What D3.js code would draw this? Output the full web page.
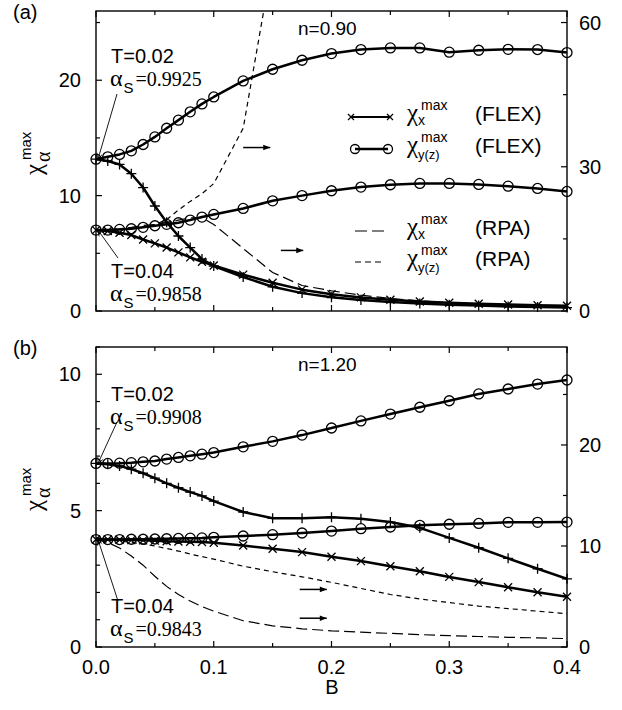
<!DOCTYPE html>
<html>
<head>
<meta charset="utf-8">
<script src="https://cdn.jsdelivr.net/npm/d3@7"></script>
<style>
  body { margin: 0; background: #fff; }
  svg { display: block; }
  text { font-family: "Liberation Sans", Arial, sans-serif; fill: #000; }
  .serif { font-family: "Liberation Serif", "DejaVu Serif", serif; }
</style>
</head>
<body>
<svg id="chart" width="622" height="710"></svg>
<script>
// DATA
const B = [0, 0.01, 0.02, 0.03, 0.04, 0.05, 0.06, 0.07, 0.08, 0.09, 0.1,
           0.125, 0.15, 0.175, 0.2, 0.225, 0.25, 0.275, 0.3, 0.325, 0.35, 0.375, 0.4];
const xTickLabels = ["0.0", "0.1", "0.2", "0.3", "0.4"];

// (a) n=0.90, left axis
const yzA02 = [13.16, 13.36, 13.57, 13.88, 14.43, 15.09, 15.84, 16.54, 17.26, 17.95, 18.55,
               19.94, 20.95, 21.73, 22.31, 22.66, 22.8, 22.8, 22.43, 22.6, 22.68, 22.66, 22.4];
const yzA04 = [7.01, 7.01, 7.07, 7.13, 7.25, 7.39, 7.51, 7.65, 7.88, 8.14, 8.37,
               8.89, 9.55, 10.0, 10.42, 10.74, 10.94, 11.06, 11.06, 10.97, 10.82, 10.62, 10.36];
const xA02 = [13.16, 13.0, 12.7, 11.9, 10.7, 9.1, 7.7, 6.5, 5.5, 4.5, 3.9,
              2.95, 2.1, 1.55, 1.2, 0.95, 0.78, 0.65, 0.55, 0.47, 0.4, 0.35, 0.3];
const xA04 = [7.01, 6.93, 6.78, 6.58, 6.2, 5.86, 5.5, 5.08, 4.65, 4.27, 3.95,
              3.15, 2.45, 1.85, 1.45, 1.18, 0.98, 0.83, 0.72, 0.63, 0.56, 0.5, 0.45];
// (a) RPA, right axis
const rpaXA = [16.8, 16.9, 17.1, 17.4, 17.8, 18.0, 18.4, 18.9, 19.4, 19.4, 18.0,
               13.0, 8.0, 5.3, 4.2, 3.3, 2.6, 2.1, 1.7, 1.4, 1.2, 1.0, 0.9];
const rpaYZA = [16.8, 16.85, 16.95, 17.1, 17.4, 18.0, 19.0, 21.0, 22.8, 24.4, 26.5, 38, 73];

// (b) n=1.20, left axis
const yzB02 = [6.73, 6.73, 6.74, 6.76, 6.79, 6.82, 6.89, 6.95, 7.01, 7.07, 7.13,
               7.34, 7.54, 7.77, 8.03, 8.29, 8.54, 8.79, 9.03, 9.28, 9.46, 9.64, 9.79];
const yzB04 = [3.94, 3.94, 3.94, 3.95, 3.95, 3.96, 3.97, 3.98, 3.99, 4.0, 4.02,
               4.07, 4.12, 4.18, 4.25, 4.34, 4.4, 4.46, 4.5, 4.53, 4.57, 4.57, 4.58];
const xB02 = [6.73, 6.7, 6.64, 6.52, 6.37, 6.19, 6.0, 5.84, 5.68, 5.54, 5.35,
              4.95, 4.72, 4.72, 4.76, 4.7, 4.58, 4.37, 4.0, 3.64, 3.25, 2.87, 2.5];
const xB04 = [3.94, 3.94, 3.93, 3.92, 3.91, 3.9, 3.88, 3.87, 3.86, 3.85, 3.82,
              3.72, 3.6, 3.48, 3.31, 3.15, 2.96, 2.78, 2.57, 2.38, 2.19, 2.01, 1.84];
// (b) RPA, right axis
const rpaYZB = [10.65, 10.6, 10.5, 10.35, 10.2, 10.0, 9.75, 9.5, 9.2, 8.95, 8.7,
                8.0, 7.45, 6.95, 6.4, 5.8, 5.2, 4.75, 4.4, 4.05, 3.8, 3.55, 3.3];
const rpaXB = [10.65, 10.35, 9.8, 9.0, 8.1, 7.0, 6.0, 5.2, 4.55, 4.0, 3.55,
               2.6, 2.1, 1.8, 1.6, 1.47, 1.35, 1.23, 1.12, 1.04, 0.96, 0.9, 0.83];

// LAYOUT
const svg = d3.select("#chart");
const left = 96, right = 567;
const x = d3.scaleLinear().domain([0, 0.4]).range([left, right]);
const SERIF = '"Liberation Serif", "DejaVu Serif", serif';
const SANS = '"Liberation Sans", Arial, sans-serif';

const defs = svg.append("defs");
defs.append("marker").attr("id", "thinhead")
    .attr("viewBox", "0 0 10 10").attr("refX", 10).attr("refY", 5)
    .attr("markerWidth", 8).attr("markerHeight", 6).attr("markerUnits", "userSpaceOnUse")
    .attr("orient", "auto")
  .append("path").attr("d", "M0,0 L10,5 L0,10").attr("fill", "none").attr("stroke", "#000").attr("stroke-width", 1.2);
defs.append("marker").attr("id", "head")
    .attr("viewBox", "0 0 10 10").attr("refX", 10).attr("refY", 5)
    .attr("markerWidth", 9).attr("markerHeight", 7).attr("markerUnits", "userSpaceOnUse")
    .attr("orient", "auto")
  .append("path").attr("d", "M0,1 L10,5 L0,9 Z").attr("fill", "#000");

function pairs(vals) {
  return vals.map((v, i) => [B[i], v]);
}

// chi with superscript "max" and a subscript
function chiLabel(g, px, py, sub) {
  const long = sub.length > 1;
  g.append("text").attr("class", "serif").attr("x", px).attr("y", py)
    .attr("font-size", 25).text("χ");
  g.append("text").attr("x", px + 14).attr("y", py - 11).attr("font-size", 14).text("max");
  g.append("text").attr("x", px + 11).attr("y", py + (long ? 6 : 4))
    .attr("font-size", long ? 13 : 14).text(sub);
}

function drawPanel(p) {
  const g = svg.append("g");
  const yL = d3.scaleLinear().domain([0, p.leftMax]).range([p.bottom, p.top]);
  const yR = d3.scaleLinear().domain([0, p.rightMax]).range([p.bottom, p.top]);

  const clipId = "clip" + p.name;
  defs.append("clipPath").attr("id", clipId)
    .append("rect").attr("x", left).attr("y", p.top).attr("width", right - left).attr("height", p.bottom - p.top);

  // ticks (inward)
  const ticks = g.append("g").attr("stroke", "#000").attr("stroke-width", 1.2);
  d3.range(0, 9).forEach(i => {
    const v = i * 0.05, len = i % 2 === 0 ? 6 : 4;
    ticks.append("line").attr("x1", x(v)).attr("x2", x(v)).attr("y1", p.bottom).attr("y2", p.bottom - len);
    ticks.append("line").attr("x1", x(v)).attr("x2", x(v)).attr("y1", p.top).attr("y2", p.top + len);
  });
  p.leftTicks.forEach(v => {
    const len = p.leftMajor.includes(v) ? 6 : 4;
    ticks.append("line").attr("x1", left).attr("x2", left + len).attr("y1", yL(v)).attr("y2", yL(v));
  });
  p.rightTicks.forEach(v => {
    const len = p.rightMajor.includes(v) ? 6 : 4;
    ticks.append("line").attr("x1", right).attr("x2", right - len).attr("y1", yR(v)).attr("y2", yR(v));
  });

  // tick labels
  g.append("g").attr("text-anchor", "end").attr("font-size", 20)
    .selectAll().data(p.leftMajor).join("text")
      .attr("x", 81).attr("y", d => yL(d)).attr("dy", "0.35em").text(d => d);
  g.append("g").attr("text-anchor", "start").attr("font-size", 20)
    .selectAll().data(p.rightMajor).join("text")
      .attr("x", 579).attr("y", d => yR(d)).attr("dy", "0.35em").text(d => d);

  // curves
  const plot = g.append("g").attr("clip-path", `url(#${clipId})`);
  const lineL = d3.line().x(d => x(d[0])).y(d => yL(d[1]));
  const lineR = d3.line().x(d => x(d[0])).y(d => yR(d[1]));

  plot.append("path").datum(pairs(p.rpaX)).attr("d", lineR)
    .attr("fill", "none").attr("stroke", "#000").attr("stroke-width", 1.2).attr("stroke-dasharray", "11,5");
  plot.append("path").datum(pairs(p.rpaYZ)).attr("d", lineR)
    .attr("fill", "none").attr("stroke", "#000").attr("stroke-width", 1.2).attr("stroke-dasharray", "5,4");

  [p.x02, p.x04, p.yz02, p.yz04].forEach(vals => {
    plot.append("path").datum(pairs(vals)).attr("d", lineL)
      .attr("fill", "none").attr("stroke", "#000").attr("stroke-width", 2.5).attr("stroke-linejoin", "round");
  });

  const mk = g.append("g").attr("stroke", "#000").attr("fill", "none").attr("stroke-width", 1.3);
  [p.yz02, p.yz04].forEach(vals => {
    mk.append("g").selectAll().data(pairs(vals)).join("circle")
      .attr("cx", d => x(d[0])).attr("cy", d => yL(d[1])).attr("r", 5);
  });
  mk.append("g").selectAll().data(pairs(p.x04)).join("path")
    .attr("d", d => { const cx = x(d[0]), cy = yL(d[1]);
      return `M${cx - 4},${cy - 4}L${cx + 4},${cy + 4}M${cx - 4},${cy + 4}L${cx + 4},${cy - 4}`; });
  mk.append("g").selectAll().data(pairs(p.x02)).join("path")
    .attr("d", d => { const cx = x(d[0]), cy = yL(d[1]);
      return `M${cx - 5},${cy}L${cx + 5},${cy}M${cx},${cy - 5}L${cx},${cy + 5}`; });

  // frame
  g.append("rect").attr("x", left).attr("y", p.top).attr("width", right - left).attr("height", p.bottom - p.top)
    .attr("fill", "none").attr("stroke", "#000").attr("stroke-width", 1.4);

  // panel letter, density
  g.append("text").attr("x", 13).attr("y", p.top + 8).attr("font-size", 20).text(p.letter);
  g.append("text").attr("x", 298).attr("y", p.top + 24).attr("font-size", 19).text(p.density);

  // y label
  const yl = g.append("g").attr("transform", `translate(42,${p.top + 164}) rotate(-90)`);
  yl.append("text").attr("class", "serif").attr("x", 0).attr("y", 0).attr("font-size", 25).text("χ");
  yl.append("text").attr("class", "serif").attr("x", 13).attr("y", 8).attr("font-size", 20).text("α");
  yl.append("text").attr("x", 15).attr("y", -11).attr("font-size", 15).text("max");

  // T / alpha annotations
  p.notes.forEach(n => {
    g.append("text").attr("x", 111).attr("y", n.ty).attr("font-size", 20).text(n.T);
    const t = g.append("text").attr("x", 110).attr("y", n.ty + 23);
    t.append("tspan").style("font-family", SERIF).attr("font-size", 24).text("α");
    t.append("tspan").style("font-family", SANS).attr("font-size", 15).attr("dx", 1).attr("dy", 7).text("S");
    t.append("tspan").style("font-family", SERIF).attr("font-size", 20).attr("dx", 2).attr("dy", -7).text(n.alpha);
    g.append("line").attr("x1", n.from[0]).attr("y1", n.from[1])
      .attr("x2", x(0) + 2).attr("y2", yL(n.at))
      .attr("stroke", "#000").attr("stroke-width", 0.9).attr("marker-end", "url(#thinhead)");
  });

  // arrows pointing to the right axis
  p.arrows.forEach(a => {
    g.append("line").attr("x1", x(a[0])).attr("x2", x(a[1])).attr("y1", yR(a[2])).attr("y2", yR(a[2]))
      .attr("stroke", "#000").attr("stroke-width", 1.5).attr("marker-end", "url(#head)");
  });
}

// PANEL (a)
drawPanel({
  name: "a", letter: "(a)", density: "n=0.90", top: 11, bottom: 311,
  leftMax: 26, rightMax: 62.4,
  leftTicks: [0, 5, 10, 15, 20, 25], leftMajor: [0, 10, 20],
  rightTicks: [0, 15, 30, 45, 60], rightMajor: [0, 30, 60],
  yz02: yzA02, yz04: yzA04, x02: xA02, x04: xA04, rpaX: rpaXA, rpaYZ: rpaYZA,
  notes: [
    { T: "T=0.02", alpha: "=0.9925", ty: 63, from: [117, 94], at: 13.16 },
    { T: "T=0.04", alpha: "=0.9858", ty: 278, from: [118, 258], at: 7.01 }
  ],
  arrows: [[0.125, 0.148, 34], [0.157, 0.176, 12.6]]
});

// PANEL (b)
drawPanel({
  name: "b", letter: "(b)", density: "n=1.20", top: 347, bottom: 647,
  leftMax: 11, rightMax: 29.7,
  leftTicks: d3.range(0, 12), leftMajor: [0, 5, 10],
  rightTicks: [0, 5, 10, 15, 20, 25], rightMajor: [0, 10, 20],
  yz02: yzB02, yz04: yzB04, x02: xB02, x04: xB04, rpaX: rpaXB, rpaYZ: rpaYZB,
  notes: [
    { T: "T=0.02", alpha: "=0.9908", ty: 401, from: [117, 422], at: 6.73 },
    { T: "T=0.04", alpha: "=0.9843", ty: 613, from: [118, 601], at: 3.94 }
  ],
  arrows: [[0.173, 0.196, 5.7], [0.173, 0.196, 2.85]]
});

// x tick labels and axis title
svg.append("g").attr("text-anchor", "middle").attr("font-size", 20)
  .selectAll().data(xTickLabels).join("text")
    .attr("x", d => x(+d)).attr("y", 674).text(d => d);
svg.append("text").attr("x", 332).attr("y", 694).attr("text-anchor", "middle").attr("font-size", 20).text("B");

// LEGEND (panel a)
const legend = svg.append("g");
const legendRows = [
  { sub: "x", method: "(FLEX)", y: 121, kind: "cross" },
  { sub: "y(z)", method: "(FLEX)", y: 153, kind: "circle" },
  { sub: "x", method: "(RPA)", y: 235, kind: "long" },
  { sub: "y(z)", method: "(RPA)", y: 266, kind: "short" }
];
legendRows.forEach(r => {
  const ly = r.y - 4;
  if (r.kind === "cross") {
    legend.append("line").attr("x1", 351).attr("x2", 390).attr("y1", ly).attr("y2", ly)
      .attr("stroke", "#000").attr("stroke-width", 2.2);
    [351, 390].forEach(cx => legend.append("path")
      .attr("d", `M${cx - 3},${ly - 3}L${cx + 3},${ly + 3}M${cx - 3},${ly + 3}L${cx + 3},${ly - 3}`)
      .attr("stroke", "#000").attr("stroke-width", 1.2));
  } else if (r.kind === "circle") {
    legend.append("line").attr("x1", 355).attr("x2", 388).attr("y1", ly).attr("y2", ly)
      .attr("stroke", "#000").attr("stroke-width", 2.5);
    [355, 388].forEach(cx => legend.append("circle").attr("cx", cx).attr("cy", ly).attr("r", 4.5)
      .attr("fill", "none").attr("stroke", "#000").attr("stroke-width", 1.3));
  } else {
    legend.append("line").attr("x1", 355).attr("x2", 385).attr("y1", ly).attr("y2", ly)
      .attr("stroke", "#000").attr("stroke-width", 1.2)
      .attr("stroke-dasharray", r.kind === "long" ? "12,5" : "6,4");
  }
  chiLabel(legend, 407, r.y, r.sub);
  legend.append("text").attr("x", 475).attr("y", r.y).attr("font-size", 21).text(r.method);
});
</script>
</body>
</html>
